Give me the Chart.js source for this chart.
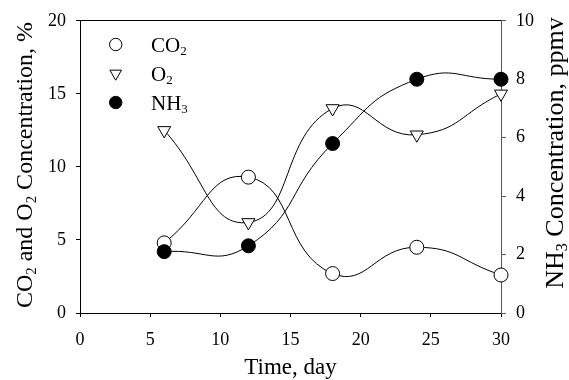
<!DOCTYPE html>
<html>
<head>
<meta charset="utf-8">
<title>CO2, O2 and NH3 concentration</title>
<script src="https://cdn.jsdelivr.net/npm/chart.js"></script>
<style>
  html, body { margin: 0; padding: 0; background: #fff; }
  #chart { display: block; }
</style>
</head>
<body>
<canvas id="chart" width="569" height="380"></canvas>
<script>
// values
var days = [6, 12, 18, 24, 30];
var co2 = [4.8, 9.3, 2.7, 4.5, 2.6];      // %
var o2 = [12.5, 6.2, 14.0, 12.2, 15.0];   // %
var nh3 = [2.1, 2.3, 5.8, 8.0, 8.0];      // ppmv

var seriesNames = ["CO_2", "O_2", "NH_3"];
var xTitle = "Time, day";
var yTitle = "CO_2 and O_2 Concentration, %";
var y2Title = "NH_3 Concentration, ppmv";

var serif = "'Liberation Serif', 'Times New Roman', serif";

function pts(vals) {
    return days.map(function (d, i) { return { x: d, y: vals[i] }; });
}

// text with _n subscripts
function drawRich(ctx, txt, x, y, size, align) {
    var parts = txt.split(/_(\d)/).map(function (s, i) { return { t: s, sub: i % 2 === 1 }; });
    var subSize = size * 0.62;
    var w = 0;
    parts.forEach(function (p) {
        ctx.font = (p.sub ? subSize : size) + "px " + serif;
        p.w = ctx.measureText(p.t).width;
        w += p.w;
    });
    var cx = align === "center" ? x - w / 2 : x;
    ctx.textAlign = "left";
    ctx.textBaseline = "alphabetic";
    parts.forEach(function (p) {
        ctx.font = (p.sub ? subSize : size) + "px " + serif;
        ctx.fillText(p.t, cx, p.sub ? y + size * 0.17 : y);
        cx += p.w;
    });
}

// y titles (rotated, with subscripts) and the legend inside the plot
var extras = {
    id: "extras",
    afterDraw: function (chart) {
        var ctx = chart.ctx;
        ctx.save();
        ctx.fillStyle = "#000";

        ctx.save();
        ctx.translate(32, 165);
        ctx.rotate(-Math.PI / 2);
        drawRich(ctx, yTitle, 0, 0, 24, "center");
        ctx.restore();

        ctx.save();
        ctx.translate(563, 153);
        ctx.rotate(-Math.PI / 2);
        drawRich(ctx, y2Title, 0, 0, 26, "center");
        ctx.restore();

        chart.data.datasets.forEach(function (ds, i) {
            var cy = 44.5 + i * 29;
            ctx.fillStyle = ds.pointBackgroundColor;
            ctx.strokeStyle = ds.pointBorderColor;
            ctx.lineWidth = 1;
            Chart.helpers.drawPoint(ctx, {
                pointStyle: ds.pointStyle,
                rotation: ds.pointRotation || 0,
                radius: ds.pointRadius - 0.8,
                borderWidth: 1
            }, 115.7, cy);
            ctx.fillStyle = "#000";
            drawRich(ctx, seriesNames[i], 151, cy + 7, 21, "left");
        });
        ctx.restore();
    }
};

var tickFont = { family: serif, size: 18 };

var ctx = document.getElementById("chart").getContext("2d");
var myChart = new Chart(ctx, {
    type: "line",
    data: {
        datasets: [{
                label: "CO2",
                data: pts(co2),
                yAxisID: "y",
                borderColor: "#000",
                borderWidth: 1,
                pointStyle: "circle",
                pointRadius: 7,
                pointBackgroundColor: "#fff",
                pointBorderColor: "#000",
                pointBorderWidth: 1,
                tension: 0.5,
                clip: false,
                order: 2
            },
            {
                label: "O2",
                data: pts(o2),
                yAxisID: "y",
                borderColor: "#000",
                borderWidth: 1,
                pointStyle: "triangle",
                pointRotation: 180,
                pointRadius: 7.5,
                pointBackgroundColor: "#fff",
                pointBorderColor: "#000",
                pointBorderWidth: 1,
                tension: 0.5,
                clip: false,
                order: 1
            },
            {
                label: "NH3",
                data: pts(nh3),
                yAxisID: "y2",
                borderColor: "#000",
                borderWidth: 1,
                pointStyle: "circle",
                pointRadius: 7,
                pointBackgroundColor: "#000",
                pointBorderColor: "#000",
                pointBorderWidth: 1,
                tension: 0.5,
                clip: false,
                order: 0
            }
        ]
    },
    options: {
        responsive: false,
        animation: false,
        layout: { padding: { top: 19, left: 0, right: 0, bottom: 0 } },
        plugins: {
            legend: { display: false },
            tooltip: { enabled: false }
        },
        scales: {
            x: {
                type: "linear",
                position: "bottom",
                min: 0,
                max: 30,
                ticks: { stepSize: 5, color: "#000", font: tickFont, padding: 12, maxRotation: 0 },
                grid: { drawOnChartArea: false, tickLength: 4, tickColor: "#000" },
                border: { color: "#000" },
                title: {
                    display: true,
                    text: xTitle,
                    color: "#000",
                    font: { family: serif, size: 23, lineHeight: 1 },
                    padding: { top: 0, bottom: 1 }
                },
                afterFit: function (s) { s.height = 67; }
            },
            xTop: {
                type: "linear",
                position: "top",
                min: 0,
                max: 30,
                ticks: { display: false },
                grid: { display: false },
                border: { display: true, color: "#000" },
                afterFit: function (s) { s.height = 0; }
            },
            y: {
                type: "linear",
                position: "left",
                min: 0,
                max: 20,
                ticks: { stepSize: 5, color: "#000", font: tickFont, padding: 10 },
                grid: { drawOnChartArea: false, tickLength: 4, tickColor: "#000" },
                border: { color: "#000" },
                afterFit: function (s) { s.width = 80; }
            },
            y2: {
                type: "linear",
                position: "right",
                min: 0,
                max: 10,
                ticks: { stepSize: 2, color: "#000", font: tickFont, padding: 10 },
                grid: { drawOnChartArea: false, tickLength: 5, tickColor: "#555" },
                border: { color: "#555" },
                afterFit: function (s) { s.width = 68; }
            }
        }
    },
    plugins: [extras]
});
</script>
</body>
</html>
